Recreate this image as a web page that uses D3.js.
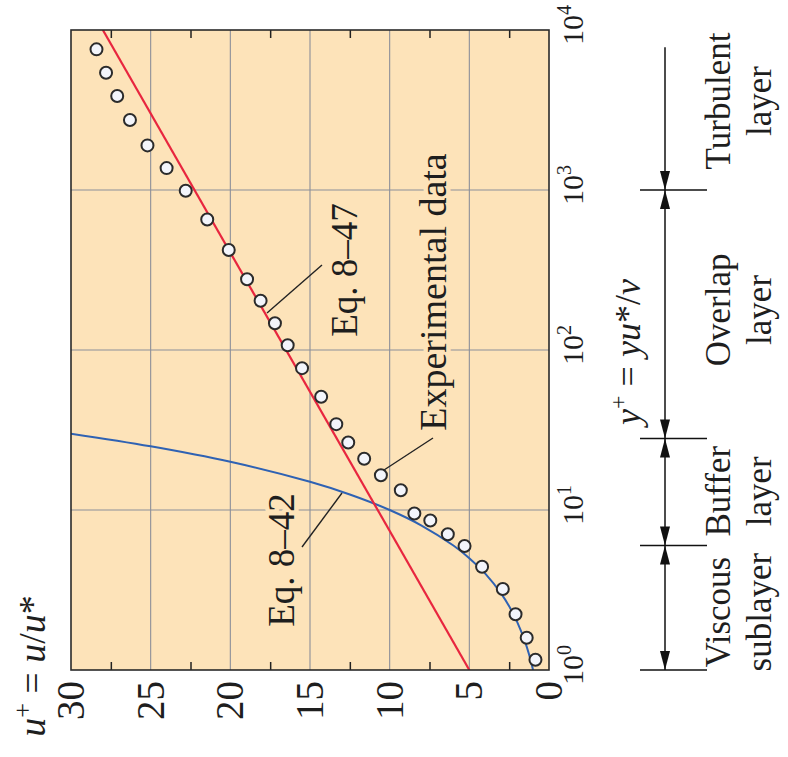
<!DOCTYPE html>
<html>
<head>
<meta charset="utf-8">
<script src="https://cdn.jsdelivr.net/npm/d3@7"></script>
<style>
  html, body { margin: 0; padding: 0; background: #ffffff; }
  svg { display: block; }
  text { font-family: "Liberation Serif", "Times New Roman", serif; fill: #1e1e1e; }
</style>
</head>
<body>
<svg id="chart" width="788" height="757"></svg>
<script>
// Velocity profile near a wall in wall coordinates (plot turned on its side)
const uTicks = [30, 25, 20, 15, 10, 5, 0];
const uMinorTicks = [27.5, 22.5, 17.5, 12.5, 7.5, 2.5];
const yPlusExponents = [0, 1, 2, 3, 4];

// Experimental data points
const expYPlus = [7570, 5410, 3870, 2740, 1900, 1370, 990, 654, 422, 277, 203, 147, 107, 77, 51, 34.4, 26.4, 20.9, 16.5, 13.3, 9.5, 8.6, 7.05, 5.96, 4.42, 3.21, 2.23, 1.59, 1.16];
const expUPlus = [28.4, 27.8, 27.1, 26.3, 25.2, 24.0, 22.8, 21.45, 20.1, 18.95, 18.1, 17.2, 16.4, 15.5, 14.3, 13.35, 12.6, 11.6, 10.55, 9.3, 8.45, 7.45, 6.35, 5.3, 4.2, 2.9, 2.1, 1.4, 0.85];

// Eq. 8-47, log law (straight in log y+)
const logLawYPlus = [1, 10000];
const logLawUPlus = [5.0, 28.0];

// Eq. 8-42, viscous sublayer u+ = y+
const viscYPlus = [1, 1.25, 1.5, 2, 2.5, 3, 4, 5, 6, 8, 10, 12.5, 15, 20, 25, 30, 32];
const viscUPlus = [1, 1.25, 1.5, 2, 2.5, 3, 4, 5, 6, 8, 10, 12.5, 15, 20, 25, 30, 32];

// Layer divisions along y+
const layerBounds = [1, 6, 28, 1000];
const layerTop = 7800;
const layerNames = [["Viscous", "sublayer"], ["Buffer", "layer"], ["Overlap", "layer"], ["Turbulent", "layer"]];
const layerLabelAt = [2.3, 13.1, 178, 3600];

const svg = d3.select("#chart");
const pLeft = 71, pRight = 549, pTop = 30, pBottom = 670;

const x = d3.scaleLinear().domain([30, 0]).range([pLeft, pRight]);
const y = d3.scaleLog().domain([1, 10000]).range([pBottom, pTop]);

const bg = "#fde3b9";
const gridColor = "#8c8f99";

svg.append("defs").append("clipPath").attr("id", "plotClip")
  .append("rect").attr("x", pLeft).attr("y", pTop)
  .attr("width", pRight - pLeft).attr("height", pBottom - pTop);

// plot background
svg.append("rect").attr("x", pLeft).attr("y", pTop)
  .attr("width", pRight - pLeft).attr("height", pBottom - pTop)
  .attr("fill", bg);

// grid
const grid = svg.append("g").attr("stroke", gridColor).attr("stroke-width", 1.1);
grid.selectAll("line.v").data(uTicks.filter(d => d > 0 && d < 30)).join("line")
  .attr("class", "v")
  .attr("x1", d => x(d)).attr("x2", d => x(d)).attr("y1", pTop).attr("y2", pBottom);
grid.selectAll("line.h").data(yPlusExponents.slice(1, -1)).join("line")
  .attr("class", "h")
  .attr("y1", d => y(Math.pow(10, d))).attr("y2", d => y(Math.pow(10, d)))
  .attr("x1", pLeft).attr("x2", pRight);

// curves
const plot = svg.append("g").attr("clip-path", "url(#plotClip)");
plot.append("path")
  .datum(viscYPlus.map((v, i) => [v, viscUPlus[i]]))
  .attr("d", d3.line().x(d => x(d[1])).y(d => y(d[0])).curve(d3.curveCatmullRom))
  .attr("fill", "none").attr("stroke", "#2f62b3").attr("stroke-width", 2);
plot.append("path")
  .datum(logLawYPlus.map((v, i) => [v, logLawUPlus[i]]))
  .attr("d", d3.line().x(d => x(d[1])).y(d => y(d[0])))
  .attr("fill", "none").attr("stroke", "#e8263f").attr("stroke-width", 2.2);

// minor ticks, bottom and top, pointing inward
svg.append("g").attr("transform", `translate(0,${pBottom})`)
  .call(d3.axisBottom(x).tickValues(uMinorTicks).tickSize(-8).tickFormat(""))
  .call(g => g.select(".domain").remove())
  .selectAll("line").attr("stroke", "#222").attr("stroke-width", 1.5);
svg.append("g").attr("transform", `translate(0,${pTop})`)
  .call(d3.axisTop(x).tickValues(uMinorTicks).tickSize(-8).tickFormat(""))
  .call(g => g.select(".domain").remove())
  .selectAll("line").attr("stroke", "#222").attr("stroke-width", 1.5);

// frame
svg.append("rect").attr("x", pLeft).attr("y", pTop)
  .attr("width", pRight - pLeft).attr("height", pBottom - pTop)
  .attr("fill", "none").attr("stroke", "#2a2a2a").attr("stroke-width", 1.6);

// rotated text helper
function vtext(g, cx, cy, size, anchor) {
  return g.append("text")
    .attr("transform", `translate(${cx},${cy}) rotate(-90)`)
    .attr("text-anchor", anchor || "middle")
    .style("font-size", size + "px");
}

// annotations inside the plot, with a knock-out halo
const ann = svg.append("g");
function haloText(cx, cy, size, str) {
  vtext(ann, cx, cy, size).text(str)
    .attr("stroke", bg).attr("stroke-width", 9).attr("stroke-linejoin", "round")
    .style("paint-order", "stroke");
}
haloText(446, 292, 38, "Experimental data");
haloText(357, 270, 37, "Eq. 8\u201347");
haloText(294, 560, 37, "Eq. 8\u201342");

// leader lines
const leaders = [
  [[384, 470], [433, 438]],
  [[267, 313], [322, 265]],
  [[302, 547], [342, 493]]
];
ann.selectAll("line.leader").data(leaders).join("line")
  .attr("class", "leader")
  .attr("x1", d => d[0][0]).attr("y1", d => d[0][1])
  .attr("x2", d => d[1][0]).attr("y2", d => d[1][1])
  .attr("stroke", "#222").attr("stroke-width", 1.4);

// experimental points
svg.append("g").selectAll("circle")
  .data(expYPlus.map((v, i) => [v, expUPlus[i]]))
  .join("circle")
  .attr("cx", d => x(d[1])).attr("cy", d => y(d[0])).attr("r", 6)
  .attr("fill", "#f3f5fb").attr("stroke", "#2b2b2b").attr("stroke-width", 2);

// bottom tick labels (u+)
const bl = svg.append("g");
uTicks.forEach(u => {
  vtext(bl, x(u) + 13, 681, 39, "end").text(u);
});

// right tick labels (y+ decades)
const rl = svg.append("g");
yPlusExponents.forEach(e => {
  const t = vtext(rl, 583, y(Math.pow(10, e)), 30, "start").attr("x", -15);
  t.append("tspan").text("10");
  t.append("tspan").attr("dy", -12).style("font-size", "20px").text(e);
});

// axis titles
const lt = vtext(svg, 45, 666, 38);
lt.append("tspan").style("font-style", "italic").text("u");
lt.append("tspan").attr("dy", -14).style("font-size", "26px").text("+");
lt.append("tspan").attr("dy", 14).text(" = ");
lt.append("tspan").style("font-style", "italic").text("u");
lt.append("tspan").text("/");
lt.append("tspan").style("font-style", "italic").text("u");
lt.append("tspan").text("*");

const rt = vtext(svg, 640, 352, 36);
rt.append("tspan").style("font-style", "italic").text("y");
rt.append("tspan").attr("dy", -14).style("font-size", "24px").text("+");
rt.append("tspan").attr("dy", 14).text(" = ");
rt.append("tspan").style("font-style", "italic").text("yu");
rt.append("tspan").text("*/");
rt.append("tspan").style("font-style", "italic").text("\u03bd");

// layer dimension arrows
const lay = svg.append("g");
const ax = 665, arrowLen = 19, arrowHalf = 5;
lay.append("line").attr("x1", ax).attr("x2", ax)
  .attr("y1", y(layerTop)).attr("y2", y(layerBounds[0]))
  .attr("stroke", "#111").attr("stroke-width", 1.5);
lay.selectAll("line.bound").data(layerBounds).join("line")
  .attr("class", "bound")
  .attr("x1", 640).attr("x2", 707)
  .attr("y1", d => y(d)).attr("y2", d => y(d))
  .attr("stroke", "#111").attr("stroke-width", 1.5);
const heads = [];
layerBounds.forEach((b, i) => {
  const yy = y(b);
  heads.push([yy, -1]);            // arriving from above
  if (i > 0) heads.push([yy, 1]);  // arriving from below
});
lay.selectAll("path.head").data(heads).join("path")
  .attr("class", "head")
  .attr("d", d => {
    const [yy, dir] = d;
    const base = yy + dir * arrowLen;
    return `M${ax},${yy}L${ax - arrowHalf},${base}L${ax + arrowHalf},${base}Z`;
  })
  .attr("fill", "#111");

layerNames.forEach((names, i) => {
  const cy = y(layerLabelAt[i]);
  vtext(lay, 730, cy, 35).text(names[0]);
  vtext(lay, 771, cy, 35).text(names[1]);
});
</script>
</body>
</html>
